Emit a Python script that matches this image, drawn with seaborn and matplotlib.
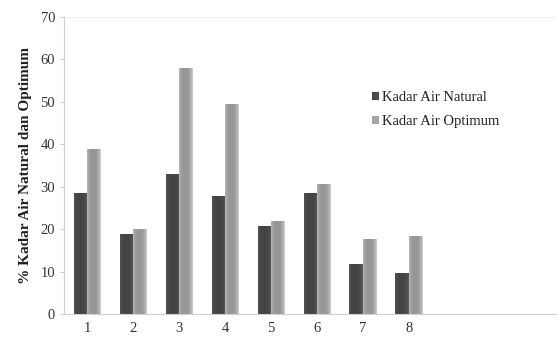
import numpy as np
import pandas as pd
import matplotlib
matplotlib.use("Agg")
import matplotlib.pyplot as plt
import seaborn as sns

# data
titik = ["1", "2", "3", "4", "5", "6", "7", "8"]
kadar_natural = [28.5, 18.8, 32.8, 27.6, 20.5, 28.5, 11.6, 9.6]
kadar_optimum = [38.7, 19.8, 57.8, 49.3, 21.7, 30.4, 17.5, 18.2]
seri = ["Kadar Air Natural", "Kadar Air Optimum"]
warna = ["#4a4a4a", "#a4a4a4"]

df = pd.DataFrame({
    "titik": titik * 2,
    "nilai": kadar_natural + kadar_optimum,
    "seri": [seri[0]] * len(titik) + [seri[1]] * len(titik),
})

sns.set_style("white")
plt.rcParams["font.family"] = ["Liberation Serif", "DejaVu Serif"]

fig = plt.figure(figsize=(5.58, 3.38), dpi=100)
ax = fig.add_axes([0.115, 0.071, 0.881, 0.879])

sns.barplot(data=df, x="titik", y="nilai", hue="seri", order=titik,
            palette=warna, width=0.58, gap=0, saturation=1,
            edgecolor="none", ax=ax)

# cylinder-like shading: lighter edges, darker core
xs = np.linspace(0, 1, 40)
faktor = 0.92 + 0.35 * (np.abs(xs - 0.45) / 0.55) ** 3
for patch in ax.patches:
    if patch.get_height() <= 0:
        continue
    base = np.array(matplotlib.colors.to_rgb(patch.get_facecolor()))
    img = np.clip(base[None, None, :] * faktor[None, :, None], 0, 1)
    x0, y0 = patch.get_x(), patch.get_y()
    w, h = patch.get_width(), patch.get_height()
    ax.imshow(img, extent=[x0, x0 + w, y0, y0 + h], aspect="auto",
              zorder=patch.get_zorder() + 0.1, interpolation="bilinear")

ax.set_xlim(-0.5, 10.2)
ax.set_ylim(0, 70)
ax.set_yticks(range(0, 71, 10))
ax.set_xlabel("")
ax.set_ylabel("% Kadar Air Natural dan Optimum", fontsize=11, fontweight="bold",
              color="#222222", labelpad=6)
ax.tick_params(axis="y", labelsize=10.5, colors="#333333", length=3, color="#cccccc",
               direction="out", left=True)
ax.tick_params(axis="x", labelsize=10.5, colors="#333333", length=0, pad=6)

for s in ["top", "right"]:
    ax.spines[s].set_visible(False)
for s in ["left", "bottom"]:
    ax.spines[s].set_color("#d0d0d0")
ax.axhline(70, color="#f0f0f0", lw=0.8, zorder=0)

leg = ax.legend(loc="upper left", bbox_to_anchor=(0.6, 0.795), frameon=False,
                fontsize=10.5, handlelength=0.45, handleheight=0.45,
                handletextpad=0.2, labelspacing=0.75)
for t in leg.get_texts():
    t.set_color("#222222")

fig.savefig("out.png", dpi=100)
